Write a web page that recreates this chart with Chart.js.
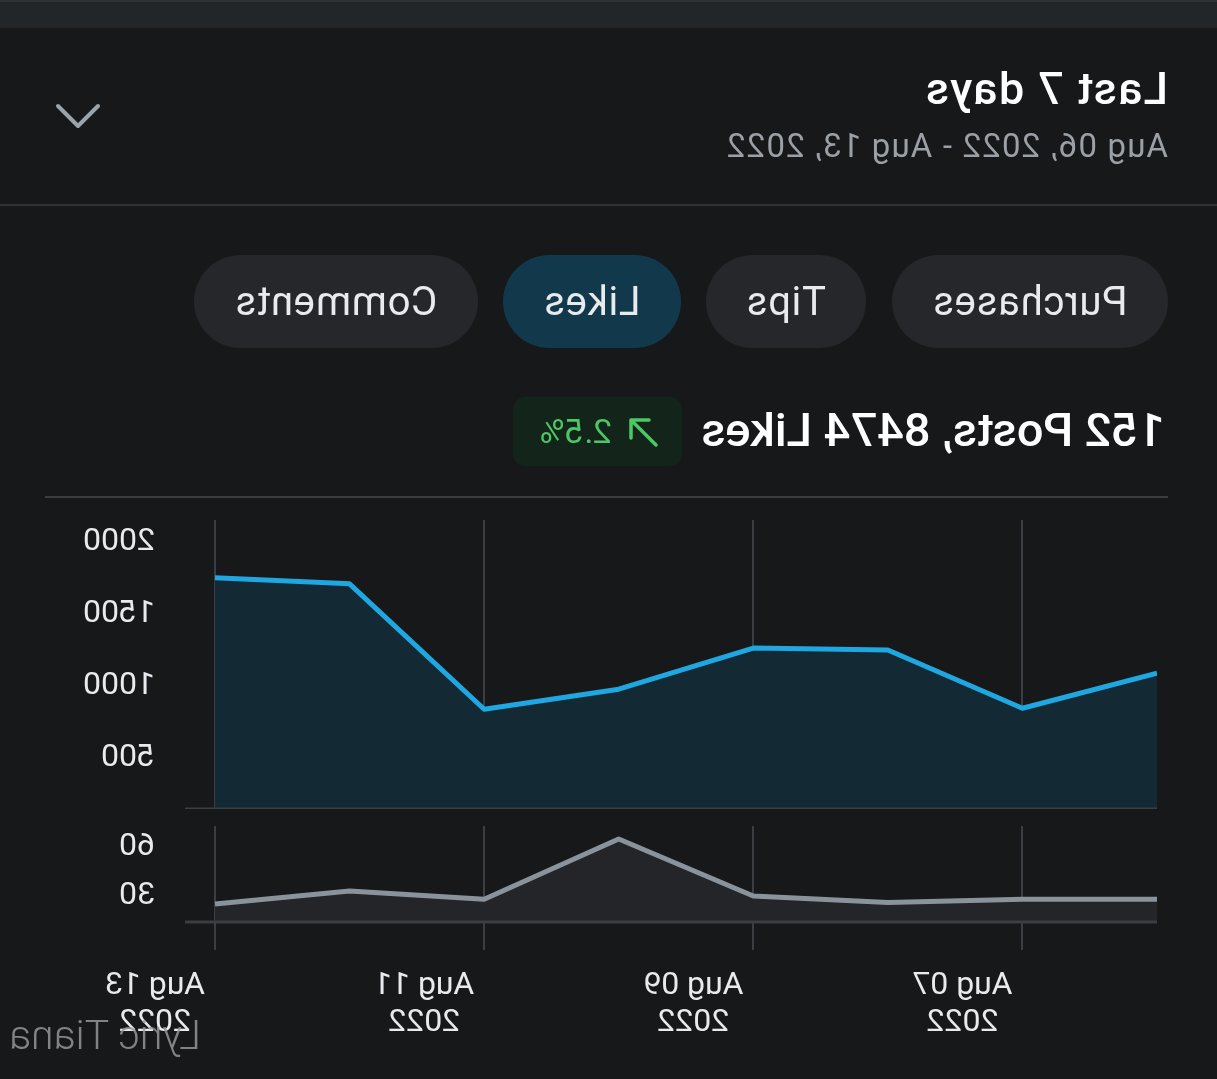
<!DOCTYPE html>
<html>
<head>
<meta charset="utf-8">
<script src="https://cdn.jsdelivr.net/npm/chart.js@4"></script>
<style>
  html, body { margin: 0; padding: 0; background: #17181a; overflow: hidden; }
  body { width: 1217px; height: 1079px; font-family: Roboto, "Noto Sans", sans-serif; }
  /* the reference is a mirrored screenshot, so the whole card is flipped */
  #page { position: absolute; left: 0; top: 0; width: 1217px; height: 1079px; transform: scaleX(-1); transform-origin: center; }
  .abs { position: absolute; white-space: nowrap; }
  .topbar { left: 0; top: 0; width: 1217px; height: 28px; background: #222628; border-top: 2px solid #2e3236; box-sizing: border-box; }
  .title { left: 49px; top: 66px; font-size: 45px; line-height: 45px; font-weight: 500; color: #fff; letter-spacing: 1.3px; }
  .range { left: 49px; top: 129px; font-size: 33px; line-height: 33px; color: #9aa0a6; letter-spacing: 1.2px; }
  .divider { left: 0; top: 204px; width: 1217px; height: 2px; background: #303336; }
  .pill { top: 255px; height: 93px; border-radius: 47px; background: #25272a; color: #e8eaed; font-size: 40px; line-height: 93px; text-align: center; letter-spacing: 0.8px; }
  .pill.on { background: #12394b; }
  .headline { left: 52px; top: 406px; font-size: 47px; line-height: 47px; font-weight: 500; color: #fff; }
  .badge { left: 535px; top: 397px; width: 169px; height: 69px; border-radius: 12px; background: #13241a; color: #4cc764; }
  .badge svg { position: absolute; left: 22px; top: 20px; }
  .badge span { position: absolute; left: 70px; top: 0; font-size: 34px; line-height: 69px; }
  .sep { left: 49px; top: 496px; width: 1123px; height: 2px; background: #3a3c3f; }
  .mark { left: 1016px; top: 1014px; font-size: 41px; line-height: 42px; font-weight: 300; color: rgba(150,150,150,0.85); }
  #likesBox { left: 60px; top: 520px; width: 1102px; height: 289px; }
  #postsBox { left: 60px; top: 826px; width: 1102px; height: 213px; }
</style>
</head>
<body>
<div id="page">
  <div class="abs topbar"></div>
  <div class="abs title">Last 7 days</div>
  <div class="abs range">Aug 06, 2022 - Aug 13, 2022</div>
  <svg class="abs" style="left:1115px;top:100px" width="48" height="32">
    <polyline points="4,6 24,26 44,6" fill="none" stroke="#9aa4ad" stroke-width="4" stroke-linecap="round" stroke-linejoin="round"/>
  </svg>
  <div class="abs divider"></div>
  <div id="tabs"></div>
  <div class="abs headline" id="headline"></div>
  <div class="abs badge">
    <svg width="34" height="32">
      <path d="M4,28 L29,3 M11,3 L29,3 L29,21" fill="none" stroke="#4cc764" stroke-width="3.5" stroke-linecap="round" stroke-linejoin="round"/>
    </svg>
    <span id="badge"></span>
  </div>
  <div class="abs sep"></div>
  <div class="abs" id="likesBox"><canvas id="likesChart"></canvas></div>
  <div class="abs" id="postsBox"><canvas id="postsChart"></canvas></div>
  <div class="abs mark">Lyric Tiana</div>
</div>

<script>
// data (Aug 06 -> Aug 13)
const days = ['Aug 06', 'Aug 07', 'Aug 08', 'Aug 09', 'Aug 10', 'Aug 11', 'Aug 12', 'Aug 13'];
const year = '2022';
const likes = [1090, 847, 1250, 1264, 979, 840, 1708, 1750];
const posts = [28, 28, 26, 30, 65, 28, 33, 25];
const likesTicks = [500, 1000, 1500, 2000];
const postsTicks = [30, 60];

const tabs = ['Purchases', 'Tips', 'Likes', 'Comments'];
const activeTab = 'Likes';
const tabX = [49, 351, 536, 739];
const tabW = [276, 160, 178, 284];

const totalPosts = 152;
const totalLikes = 8474;
const change = '2.5%';

// header bits
const tabsEl = document.getElementById('tabs');
tabs.forEach((t, i) => {
  const d = document.createElement('div');
  d.className = 'abs pill' + (t === activeTab ? ' on' : '');
  d.style.left = tabX[i] + 'px';
  d.style.width = tabW[i] + 'px';
  d.textContent = t;
  tabsEl.appendChild(d);
});
document.getElementById('headline').textContent = totalPosts + ' Posts, ' + totalLikes + ' Likes';
document.getElementById('badge').textContent = change;

Chart.defaults.font.family = 'Roboto, "Noto Sans", sans-serif';
Chart.defaults.animation = false;

const gridColor = '#3b3e42';
const AXIS_W = 160;

// base line under each plot, runs a bit past the last point
const baseLine = {
  id: 'baseLine',
  afterDatasetsDraw(chart) {
    const { ctx, chartArea } = chart;
    ctx.save();
    ctx.strokeStyle = gridColor;
    ctx.lineWidth = 3;
    ctx.beginPath();
    ctx.moveTo(chartArea.left, chartArea.bottom);
    ctx.lineTo(chartArea.right + 30, chartArea.bottom);
    ctx.stroke();
    ctx.restore();
  }
};

const noPad = (scale) => {
  scale.paddingLeft = 0;
  scale.paddingRight = 0;
  scale.paddingTop = 0;
  scale.paddingBottom = 0;
};

const makeChart = (id, values, lineColor, fillColor, min, max, tickVals, showLabels) => {
  return new Chart(document.getElementById(id), {
    type: 'line',
    data: {
      labels: days,
      datasets: [{
        data: values,
        borderColor: lineColor,
        backgroundColor: fillColor,
        borderWidth: 5,
        borderJoinStyle: 'round',
        pointRadius: 0,
        fill: 'start',
        tension: 0
      }]
    },
    options: {
      responsive: true,
      maintainAspectRatio: false,
      layout: { padding: 0 },
      plugins: { legend: { display: false }, tooltip: { enabled: false } },
      scales: {
        x: {
          grid: {
            color: (c) => (c.index % 2 === 1 ? gridColor : 'transparent'),
            lineWidth: 2,
            drawTicks: showLabels,
            tickLength: 28,
            tickColor: (c) => (c.index % 2 === 1 ? gridColor : 'transparent')
          },
          border: { display: false },
          ticks: {
            display: showLabels,
            autoSkip: false,
            maxRotation: 0,
            labelOffset: 60,
            padding: 17,
            color: '#e8eaed',
            font: { size: 32, lineHeight: 1.16 },
            callback: (v, i) => (i % 2 === 1 ? [days[i], year] : '')
          },
          afterFit: (scale) => {
            noPad(scale);
            if (showLabels) scale.height = 117;
          }
        },
        y: {
          position: 'right',
          min: min,
          max: max,
          grid: { display: false, drawTicks: false },
          border: { display: false },
          ticks: {
            padding: 60,
            color: '#e8eaed',
            font: { size: 32 },
            callback: (v) => String(v)
          },
          afterBuildTicks: (scale) => { scale.ticks = tickVals.map((v) => ({ value: v })); },
          afterFit: (scale) => { scale.width = AXIS_W; noPad(scale); }
        }
      }
    },
    plugins: [baseLine]
  });
};

makeChart('likesChart', likes, '#1ea7e0', '#132a35', 150, 2150, likesTicks, false);
makeChart('postsChart', posts, '#8a939c', '#232528', 14, 73, postsTicks, true);
</script>
</body>
</html>
